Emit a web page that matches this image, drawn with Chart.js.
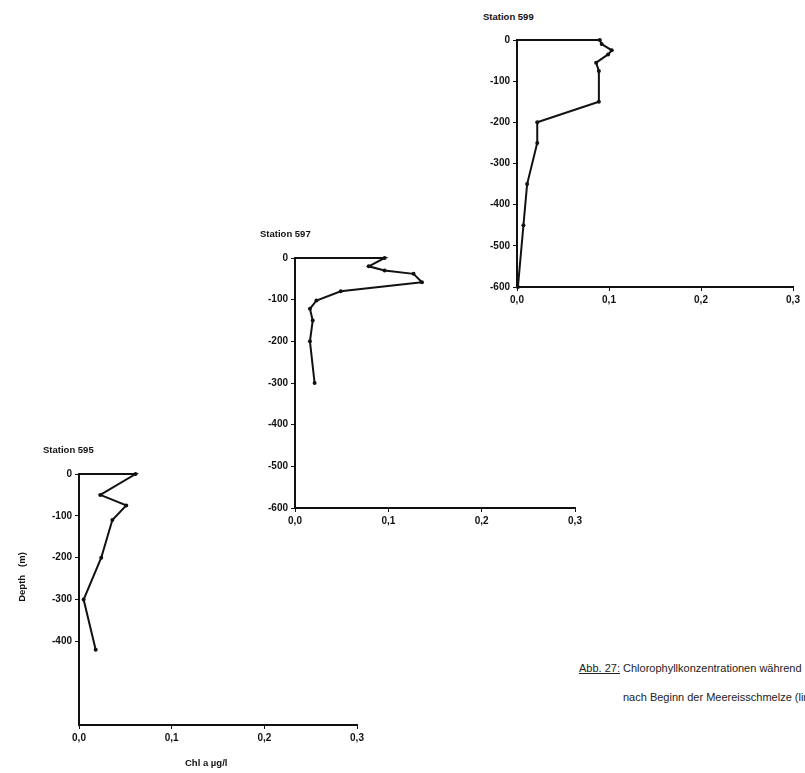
<!DOCTYPE html>
<html>
<head>
<meta charset="utf-8">
<script src="https://cdn.jsdelivr.net/npm/chart.js@4.4.1/dist/chart.umd.min.js"></script>
<style>
  html, body { margin:0; padding:0; background:#fff; }
  body { width:805px; height:773px; position:relative; overflow:hidden; font-family:"Liberation Sans", Arial, sans-serif; color:#111; }
  .cv { position:absolute; }
  .lbl { position:absolute; font-weight:bold; font-size:9.5px; white-space:nowrap; color:#111; }
  .cap { position:absolute; font-size:11px; white-space:nowrap; color:#222; }
</style>
</head>
<body>
<canvas id="c599" class="cv"></canvas>
<canvas id="c597" class="cv"></canvas>
<canvas id="c595" class="cv"></canvas>

<div class="lbl" style="left:483px; top:11px;">Station 599</div>
<div class="lbl" style="left:260px; top:228px;">Station 597</div>
<div class="lbl" style="left:43px; top:444px;">Station 595</div>
<div class="lbl" style="left:21px; top:577px; transform:translate(-50%,-50%) rotate(-90deg);">Depth&nbsp;&nbsp;&nbsp;(m)</div>
<div class="lbl" style="left:185px; top:757px;">Chl a µg/l</div>
<div class="cap" style="left:579px; top:662px;"><u>Abb. 27:</u> Chlorophyllkonzentrationen während</div>
<div class="cap" style="left:623px; top:691px;">nach Beginn der Meereisschmelze (links)</div>

<script>
// ---- data (Chl a µg/l, depth m) ----
const chl599   = [0, 0.090, 0.092, 0.103, 0.099, 0.086, 0.089, 0.089, 0.022, 0.022, 0.011, 0.007, 0.001];
const depth599 = [0, 0, -10, -25, -35, -55, -75, -150, -200, -250, -350, -450, -600];

const chl597   = [0, 0.096, 0.079, 0.096, 0.127, 0.136, 0.049, 0.023, 0.016, 0.019, 0.016, 0.021];
const depth597 = [0, 0, -20, -30, -38, -58, -80, -102, -122, -150, -200, -300];

const chl595   = [0, 0.061, 0.023, 0.051, 0.036, 0.024, 0.005, 0.018];
const depth595 = [0, 0, -50, -75, -110, -200, -300, -420];

const xTicks = [0.0, 0.1, 0.2, 0.3];
const yTicks = [0, -100, -200, -300, -400, -500, -600];

// ---- layout of each panel (pixel box of the plot area) ----
const panels = [
  { id:'c599', chl:chl599, depth:depth599, x0:517, x1:793, y0:40,  y1:287, maxLabel:-600 },
  { id:'c597', chl:chl597, depth:depth597, x0:295, x1:575, y0:258, y1:508, maxLabel:-600 },
  { id:'c595', chl:chl595, depth:depth595, x0:79,  x1:357, y0:474, y1:725, maxLabel:-400 }
];

const LEFT = 45, TOP = 12, RIGHT = 16, BOTTOM = 30;
const tickFont = { family:'"Liberation Sans", Arial, sans-serif', size:10, weight:'bold' };

panels.forEach(p => {
  const cv = document.getElementById(p.id);
  const w = (p.x1 - p.x0) + LEFT + RIGHT;
  const h = (p.y1 - p.y0) + TOP + BOTTOM;
  cv.style.left = (p.x0 - LEFT) + 'px';
  cv.style.top = (p.y0 - TOP) + 'px';
  cv.style.width = w + 'px';
  cv.style.height = h + 'px';
  cv.width = w; cv.height = h;

  const pts = p.chl.map((v, i) => ({ x: v, y: p.depth[i] }));
  const radii = pts.map((_, i) => i === 0 ? 0 : 2);

  new Chart(cv, {
    type: 'scatter',
    data: {
      datasets: [{
        data: pts,
        showLine: true,
        clip: false,
        borderColor: '#111',
        backgroundColor: '#111',
        borderWidth: 2,
        pointRadius: radii,
        pointHoverRadius: radii,
        pointBorderWidth: 0,
        tension: 0
      }]
    },
    options: {
      responsive: false,
      animation: false,
      events: [],
      layout: { padding: { top: TOP, right: RIGHT, left: 0, bottom: 0 } },
      plugins: { legend: { display:false }, tooltip: { enabled:false }, title: { display:false } },
      scales: {
        x: {
          type: 'linear',
          min: 0, max: 0.3,
          afterBuildTicks: s => { s.ticks = xTicks.map(v => ({ value: v })); },
          afterFit: s => { s.height = BOTTOM; s.paddingLeft = 0; s.paddingRight = 0; },
          grid: { display:true, drawOnChartArea:false, drawTicks:true, tickLength:4, color:'#111', lineWidth:1 },
          border: { display:true, color:'#111', width:2 },
          ticks: {
            color:'#111', font: tickFont, padding: 3, maxRotation: 0,
            callback: v => v.toFixed(1).replace('.', ',')
          }
        },
        y: {
          type: 'linear',
          min: -600, max: 0,
          afterBuildTicks: s => { s.ticks = yTicks.map(v => ({ value: v })); },
          afterFit: s => { s.width = LEFT; s.paddingTop = 0; s.paddingBottom = 0; },
          grid: {
            display:true, drawOnChartArea:false, drawTicks:true, tickLength:4, lineWidth:1,
            color: ctx => (ctx.tick && ctx.tick.value < p.maxLabel) ? 'rgba(0,0,0,0)' : '#111'
          },
          border: { display:true, color:'#111', width:2 },
          ticks: {
            color:'#111', font: tickFont, padding: 3,
            callback: v => (v < p.maxLabel ? '' : String(v))
          }
        }
      }
    }
  });
});
</script>
</body>
</html>
